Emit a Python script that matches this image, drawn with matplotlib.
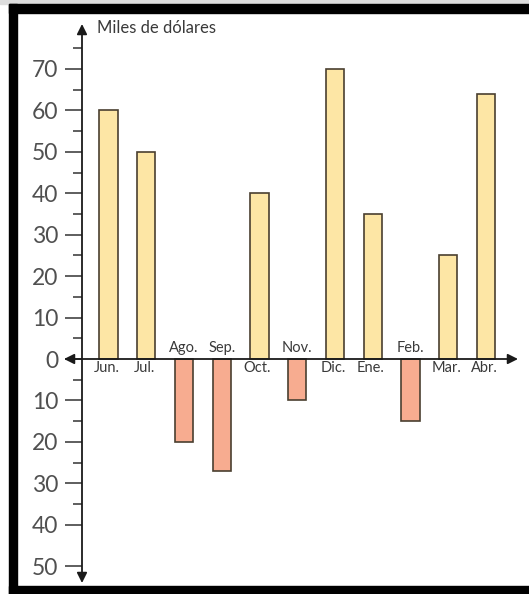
import matplotlib.pyplot as plt
from matplotlib.patches import Rectangle

# Datos (miles de dólares)
meses = ["Jun.", "Jul.", "Ago.", "Sep.", "Oct.", "Nov.", "Dic.", "Ene.", "Feb.", "Mar.", "Abr."]
valores = [60, 50, -20, -27, 40, -10, 70, 35, -15, 25, 64]
ticks_y = [70, 60, 50, 40, 30, 20, 10, 0, -10, -20, -30, -40, -50]

W, H = 529, 594
fig = plt.figure(figsize=(W / 100, H / 100), dpi=100)
ax = fig.add_axes([0, 0, 1, 1])

# pixel -> datos (escala tomada de la imagen)
x0_px, dx_px = 108.5, 37.75
y0_px, dy_px = 359, 4.143
def px_x(p):
    return (p - x0_px) / dx_px
def px_y(p):
    return (y0_px - p) / dy_px

ax.set_xlim(px_x(0), px_x(W))
ax.set_ylim(px_y(H), px_y(0))

font = "Lato"
amarillo = "#FDE6A5"
salmon = "#F7AC90"
borde = "#4A3F30"

pos = list(range(len(meses)))
colores = [amarillo if v >= 0 else salmon for v in valores]
ax.bar(pos, valores, width=0.48, color=colores, edgecolor=borde, linewidth=1.2, zorder=2)

# etiquetas de los meses
for i, (m, v) in enumerate(zip(meses, valores)):
    if v >= 0:
        ax.text(i - 0.05, px_y(y0_px + 2), m, ha="center", va="top", fontsize=10.5,
                color="#3a3a3a", family=font, zorder=4)
    else:
        ax.text(i, px_y(y0_px - 4), m, ha="center", va="bottom", fontsize=10.5,
                color="#3a3a3a", family=font, zorder=4)

# ejes con flechas
xa = px_x(82)
arrow = dict(arrowstyle="<|-|>", color="#1a1a1a", lw=1.3, mutation_scale=15,
             shrinkA=0, shrinkB=0)
ax.annotate("", xy=(xa, px_y(24)), xytext=(xa, px_y(583)), arrowprops=arrow, zorder=3)
ax.annotate("", xy=(px_x(518), 0), xytext=(px_x(64), 0), arrowprops=arrow, zorder=3)

for s in ax.spines.values():
    s.set_visible(False)
ax.spines["left"].set_position(("data", xa))
ax.set_xticks([])
ax.set_yticks(ticks_y)
ax.set_yticklabels([str(abs(t)) for t in ticks_y], fontsize=16.5, color="#505050", family=font)
ax.set_yticks([t + 5 for t in ticks_y[:-1]], minor=True)
ax.tick_params(axis="y", which="major", direction="out", length=12, width=1.1,
               color="#333333", pad=5)
ax.tick_params(axis="y", which="minor", direction="out", length=6.5, width=1.1,
               color="#333333")

ax.text(px_x(97), px_y(28), "Miles de dólares", ha="left", va="center",
        fontsize=12, color="#3a3a3a", family=font)

# marco negro
fig.patches.append(Rectangle((0, 1 - 4 / H), 1, 4 / H, transform=fig.transFigure,
                             color="#dddddd", zorder=0))
fig.patches.append(Rectangle((9 / W, 0), 8 / W, (H - 4) / H, transform=fig.transFigure,
                             color="black", zorder=10))
fig.patches.append(Rectangle((9 / W, 1 - 13 / H), 1, 9 / H, transform=fig.transFigure,
                             color="black", zorder=10))
fig.patches.append(Rectangle((9 / W, 0), 1, 8 / H, transform=fig.transFigure,
                             color="black", zorder=10))

fig.savefig("out.png", dpi=100)
